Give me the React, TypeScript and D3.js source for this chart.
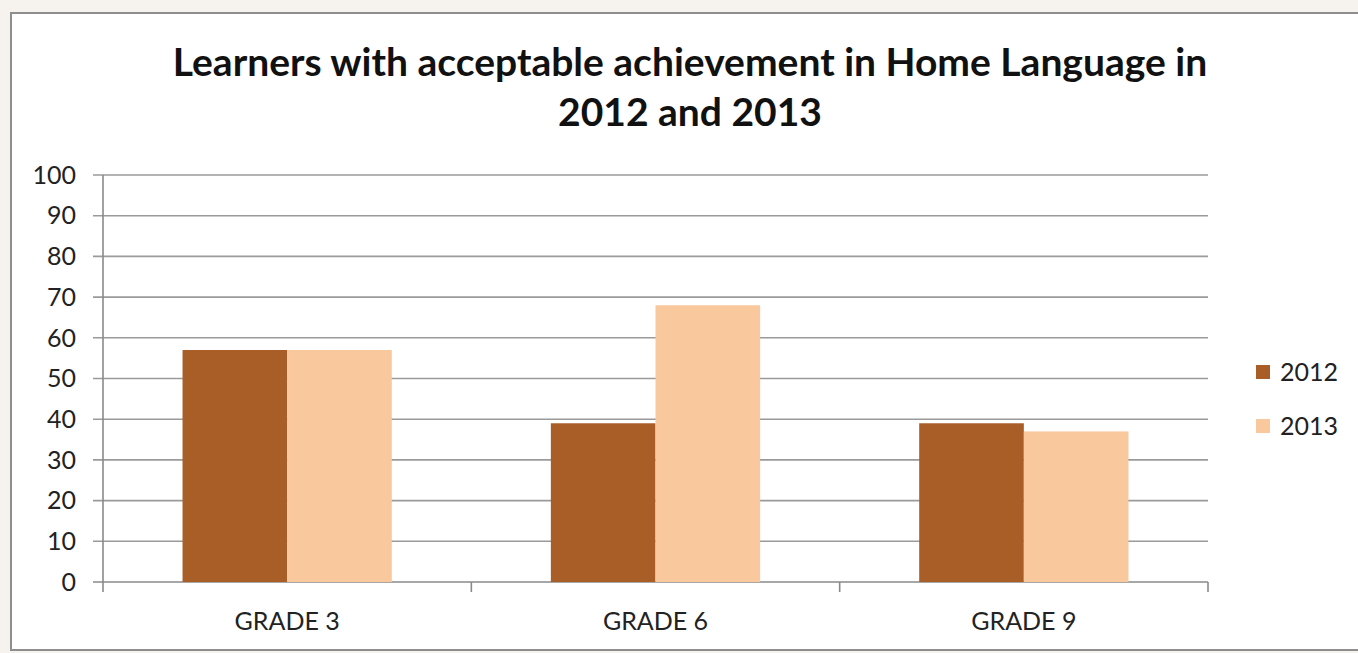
import React from "react";
import * as d3 from "d3";

const categories = ["GRADE 3", "GRADE 6", "GRADE 9"];
const seriesNames = ["2012", "2013"];
const values2012 = [57, 39, 39];
const values2013 = [57, 68, 37];
const yTicks = [0, 10, 20, 30, 40, 50, 60, 70, 80, 90, 100];
const titleLines = ["Learners with acceptable achievement in Home Language in", "2012 and 2013"];

const colors = ["#A95D27", "#F9C89D"];
const FONT = "Lato, 'Open Sans', sans-serif";

export default function App() {
  const W = 1358, H = 653;
  const left = 103, right = 1208, top = 175, bottom = 582;
  const x = d3.scaleBand<string>().domain(categories).range([left, right]).paddingInner(0).paddingOuter(0);
  const y = d3.scaleLinear().domain([0, 100]).range([bottom, top]);
  const cw = x.bandwidth();
  const barW = cw / (2 + 1.52);
  const series = [values2012, values2013];

  return (
    <div style={{ position: "fixed", left: 0, top: 0, width: W, height: H }}>
      <svg width={W} height={H} style={{ display: "block" }}>
        <rect x={0} y={0} width={W} height={H} fill="#f6f2ed" />
        <rect x={11} y={13} width={W} height={637} fill="#ffffff" stroke="#8e8e8e" strokeWidth={2} />
        <g fontFamily={FONT} fontWeight={700} fill="#111" textAnchor="middle" fontSize={39}>
          <text x={690} y={76}>{titleLines[0]}</text>
          <text x={690} y={126}>{titleLines[1]}</text>
        </g>
        {yTicks.map((t) => (
          <g key={t}>
            <line x1={93} x2={right} y1={y(t)} y2={y(t)} stroke={t === 0 ? "#8a8a8a" : "#9a9a9a"} strokeWidth={1.6} />
            <text x={76} y={y(t)} dy="0.35em" textAnchor="end" fontFamily={FONT} fontSize={25} fill="#222">{t}</text>
          </g>
        ))}
        <line x1={left} x2={left} y1={top} y2={bottom + 10} stroke="#8a8a8a" strokeWidth={1.6} />
        {categories.map((c) => (
          <line key={c} x1={(x(c) as number) + cw} x2={(x(c) as number) + cw} y1={bottom} y2={bottom + 10} stroke="#8a8a8a" strokeWidth={1.6} />
        ))}
        {categories.map((c, i) => {
          const cx = (x(c) as number) + cw / 2;
          return (
            <g key={c}>
              {series.map((vals, s) => (
                <rect key={s} x={cx - barW + s * barW} y={y(vals[i])} width={barW} height={bottom - y(vals[i])} fill={colors[s]} />
              ))}
              <text x={cx} y={630} textAnchor="middle" fontFamily={FONT} fontSize={25} fill="#222">{c}</text>
            </g>
          );
        })}
        {seriesNames.map((n, s) => (
          <g key={n}>
            <rect x={1256} y={365 + s * 54} width={14} height={14} fill={colors[s]} />
            <text x={1280} y={372 + s * 54} dy="0.35em" fontFamily={FONT} fontSize={25} fill="#222">{n}</text>
          </g>
        ))}
      </svg>
    </div>
  );
}
